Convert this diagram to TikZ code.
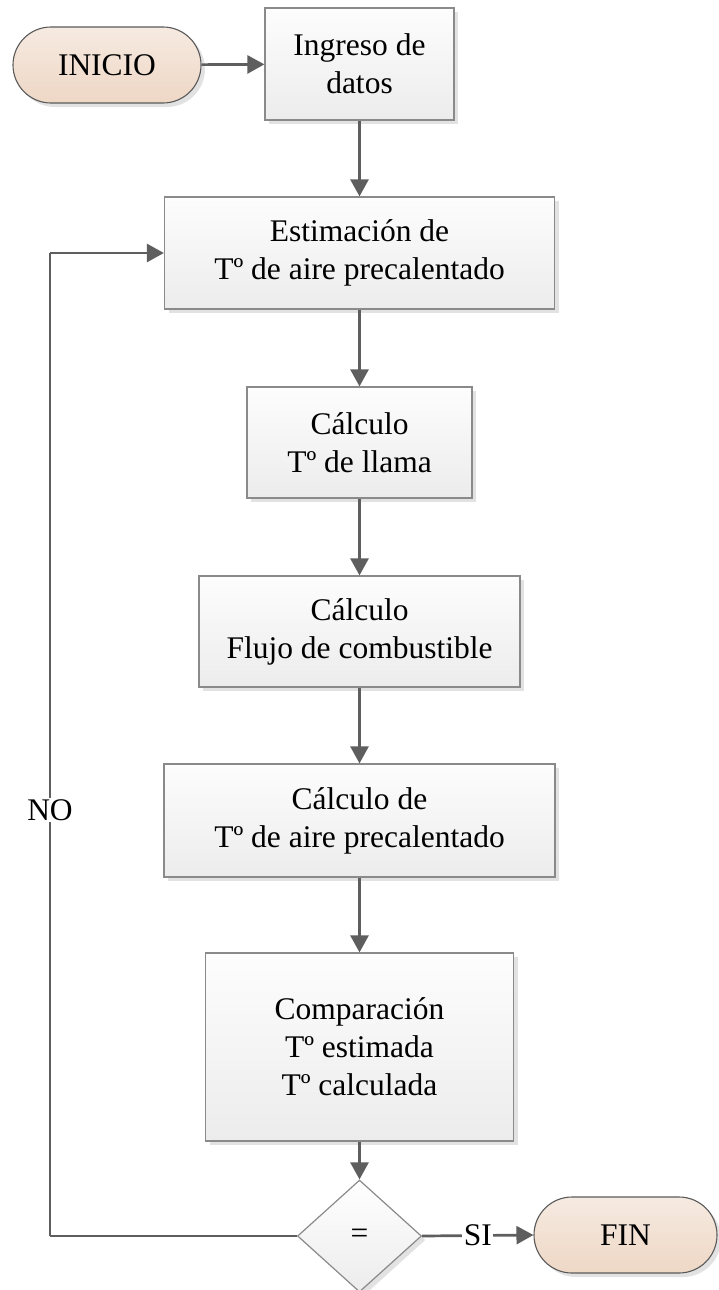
\documentclass[tikz,border=0pt]{standalone}
\usepackage{fontspec}
\setmainfont{Liberation Serif}
\usetikzlibrary{arrows.meta,shapes.misc,shapes.geometric,shadows}
\definecolor{linegray}{HTML}{5E5E5E}
\definecolor{boxedge}{HTML}{8A8A8A}
\definecolor{termedge}{HTML}{5A5A5A}
\definecolor{shadowgray}{HTML}{E2E2E2}
\definecolor{boxtop}{HTML}{FDFDFD}
\definecolor{boxbottom}{HTML}{ECECEC}
\definecolor{termtop}{HTML}{F6EAE1}
\definecolor{termbottom}{HTML}{EED7C5}
\tikzset{
  base/.style={font=\fontsize{31.5}{38}\selectfont, align=center, inner sep=0pt,
    drop shadow={shadow xshift=4pt, shadow yshift=-4pt, fill=shadowgray, opacity=1}},
  procbox/.style={base, rectangle, draw=boxedge, line width=1.2pt,
    top color=boxtop, bottom color=boxbottom},
  terminal/.style={base, rounded rectangle, draw=termedge, line width=1.1pt,
    top color=termtop, bottom color=termbottom,
    minimum width=188pt, minimum height=76pt},
  decision/.style={base, diamond, draw=boxedge, line width=1.2pt,
    top color=white, bottom color=boxbottom,
    minimum width=124pt, minimum height=112pt},
  flow/.style={draw=linegray, line width=2.7pt, -{Triangle[length=17pt,width=18pt]}},
  link/.style={draw=linegray, line width=2.7pt},
  tag/.style={font=\fontsize{31.5}{38}\selectfont, fill=white, inner sep=1.5pt}
}
\begin{document}
\begin{tikzpicture}[x=1pt,y=-1pt]
\useasboundingbox (0,0) rectangle (718,1290);

\node[terminal] (ini) at (107,65) {INICIO};
\node[procbox, minimum width=189pt, minimum height=112pt] (ing) at (359.5,64) {Ingreso de\\datos};
\node[procbox, minimum width=390pt, minimum height=112pt] (est) at (359.5,253) {Estimación de\\Tº de aire precalentado};
\node[procbox, minimum width=225pt, minimum height=111pt] (llama) at (359.5,442.5) {Cálculo\\Tº de llama};
\node[procbox, minimum width=321pt, minimum height=111pt] (flujo) at (359.5,631.5) {Cálculo\\Flujo de combustible};
\node[procbox, minimum width=391pt, minimum height=113pt] (cde) at (359.5,820.5) {Cálculo de\\Tº de aire precalentado};
\node[procbox, minimum width=308pt, minimum height=188pt] (comp) at (359.5,1047) {Comparación\\Tº estimada\\Tº calculada};
\node[decision] (dec) at (359.5,1236) {=};
\node[terminal, minimum width=183pt] (fin) at (625.5,1235) {FIN};

\coordinate (loopbot) at (50,1236);
\coordinate (looptop) at (50,253);

\draw[flow] (ini) -- (ing);
\draw[flow] (ing) -- (est);
\draw[flow] (est) -- (llama);
\draw[flow] (llama) -- (flujo);
\draw[flow] (flujo) -- (cde);
\draw[flow] (cde) -- (comp);
\draw[flow] (comp) -- (dec);
\draw[flow] (dec.east) -- node[tag] {SI} (fin.west);
\draw[link] (dec.west) -- (loopbot);
\draw[link] (loopbot) -- node[tag, pos=0.433] {NO} (looptop);
\draw[flow] (looptop) -- (est.west);
\end{tikzpicture}
\end{document}
